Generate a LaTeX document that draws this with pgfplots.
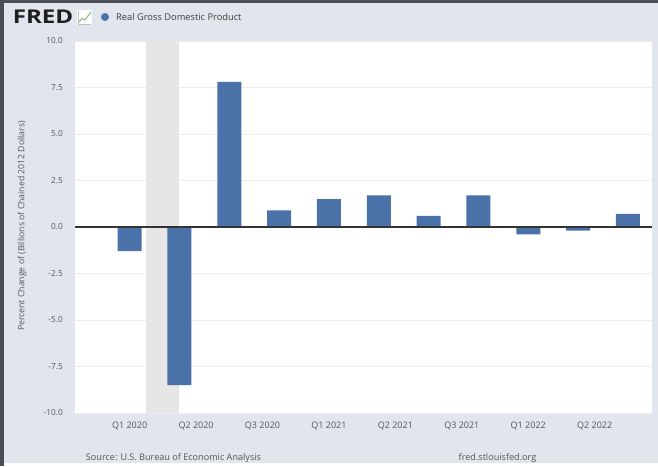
\documentclass[border=0pt]{standalone}
\usepackage{pgfplots}
\pgfplotsset{compat=1.18}
\usepackage{fontspec}
\setmainfont{Open Sans}

\definecolor{pagebg}{HTML}{E1E6EE}
\definecolor{framecol}{HTML}{4B4E57}
\definecolor{barcol}{HTML}{4A72A8}
\definecolor{shadecol}{HTML}{E6E6E6}
\definecolor{gridcol}{HTML}{EDEDED}
\definecolor{labelcol}{HTML}{555555}
\definecolor{titlecol}{HTML}{3C3C3C}
\definecolor{zerocol}{HTML}{333333}
\definecolor{icongreen}{HTML}{9DBF8E}

% Quarterly percent change, x in months since Jan 2020
\pgfplotstableread{
month change
0  -1.3
3  -8.5
6   7.8
9   0.9
12  1.5
15  1.7
18  0.6
21  1.7
24 -0.4
27 -0.2
30  0.7
}\gdpdata

\begin{document}
\begin{tikzpicture}[x=1pt,y=1pt]
\useasboundingbox (0,0) rectangle (658,466);
% page background and frame
\fill[pagebg] (0,3) rectangle (658,463);
\fill[white] (0,0) rectangle (658,3);
\fill[framecol] (0,463) rectangle (658,466);
\fill[framecol] (0,0) rectangle (4,466);

% header
\node[anchor=west, inner sep=0pt, xscale=1.27, font=\fontsize{19}{19}\selectfont\bfseries, text=black!88] at (12.5,449) {FRED};
\fill[white] (77,441) rectangle (92,456);
\draw[gray!50, line width=0.5pt] (78,442) -- (78,455) (78,442) -- (91,442);
\draw[icongreen, line width=1.2pt] (79,444) -- (82,447.5) -- (85,446) -- (91,454);
\fill[barcol] (105,449) circle (4);
\node[anchor=west, inner sep=0pt, font=\fontsize{9.3}{10}\selectfont, text=titlecol] at (116,449) {Real Gross Domestic Product};

\begin{axis}[
  at={(75pt,53pt)}, anchor=south west,
  scale only axis, width=577pt, height=372pt,
  xmin=-3.29, xmax=31.45, ymin=-10, ymax=10,
  axis line style={draw=none},
  axis background/.style={fill=white},
  major tick length=0pt,
  xtick={0,4,8,12,16,20,24,28},
  xticklabels={Q1 2020,Q2 2020,Q3 2020,Q1 2021,Q2 2021,Q3 2021,Q1 2022,Q2 2022},
  ytick={-10,-7.5,-5,-2.5,0,2.5,5,7.5,10},
  yticklabels={-10.0,-7.5,-5.0,-2.5,0.0,2.5,5.0,7.5,10.0},
  ymajorgrids, grid style={gridcol, line width=0.6pt},
  tick label style={text=labelcol},
  xticklabel style={font=\fontsize{9}{10}\selectfont, anchor=north, inner sep=0pt, yshift=-9pt},
  yticklabel style={font=\fontsize{8.3}{9}\selectfont, anchor=east, inner sep=0pt, xshift=-12pt},
]
% recession band
\fill[shadecol] (axis cs:1,-10) rectangle (axis cs:2.95,10);
\addplot[ybar, bar width=24pt, fill=barcol, draw=none] table[x=month, y=change] {\gdpdata};
\addplot[zerocol, line width=1.2pt] coordinates {(-3.29,0) (31.45,0)};
\end{axis}

\node[rotate=90, inner sep=0pt, font=\fontsize{8.7}{9}\selectfont, text=labelcol] at (22,240) {Percent Change of (Billions of Chained 2012 Dollars)};

% footer
\node[inner sep=0pt, font=\fontsize{9.1}{10}\selectfont, text=labelcol] at (173.5,8) {Source: U.S. Bureau of Economic Analysis};
\node[inner sep=0pt, font=\fontsize{9.1}{10}\selectfont, text=labelcol] at (497.5,8) {fred.stlouisfed.org};
\end{tikzpicture}
\end{document}
